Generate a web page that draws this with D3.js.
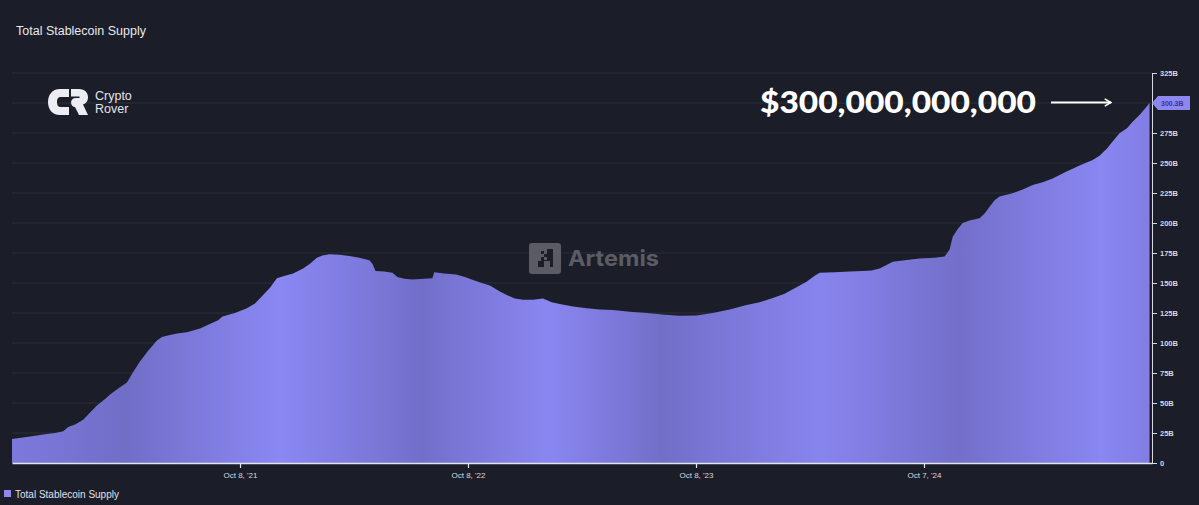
<!DOCTYPE html>
<html><head><meta charset="utf-8">
<script src="https://cdn.jsdelivr.net/npm/d3@7"></script>
<style>
html,body{margin:0;padding:0;background:#1b1e28;}
svg{display:block;}
</style></head>
<body><svg id="chart" width="1199" height="505"></svg>
<script>
const dates = ["2020-10-08","2020-11-06","2020-11-30","2020-12-16","2020-12-29","2021-01-06","2021-01-17","2021-01-30","2021-02-10","2021-02-21","2021-03-05","2021-03-14","2021-03-27","2021-04-10","2021-04-19","2021-04-30","2021-05-13","2021-05-28","2021-06-05","2021-06-13","2021-06-29","2021-07-15","2021-08-05","2021-08-26","2021-09-03","2021-09-10","2021-09-30","2021-10-19","2021-11-01","2021-11-14","2021-11-25","2021-12-06","2021-12-19","2022-01-01","2022-01-17","2022-01-28","2022-02-08","2022-02-17","2022-02-28","2022-03-16","2022-04-01","2022-04-17","2022-05-03","2022-05-08","2022-05-13","2022-05-27","2022-06-09","2022-06-17","2022-06-28","2022-07-11","2022-07-30","2022-08-12","2022-08-15","2022-08-31","2022-09-19","2022-10-03","2022-10-16","2022-10-30","2022-11-12","2022-11-28","2022-12-09","2022-12-22","2023-01-04","2023-01-20","2023-02-05","2023-02-19","2023-03-04","2023-03-25","2023-04-16","2023-05-07","2023-05-28","2023-06-24","2023-07-21","2023-08-19","2023-09-12","2023-10-09","2023-11-04","2023-12-01","2023-12-28","2024-01-18","2024-02-08","2024-02-27","2024-03-11","2024-03-22","2024-04-02","2024-04-15","2024-04-23","2024-05-17","2024-06-10","2024-07-01","2024-07-15","2024-07-28","2024-08-08","2024-08-18","2024-09-06","2024-09-30","2024-10-24","2024-11-09","2024-11-17","2024-11-22","2024-11-30","2024-12-08","2024-12-19","2025-01-04","2025-01-12","2025-01-20","2025-01-28","2025-02-05","2025-02-26","2025-03-14","2025-03-30","2025-04-15","2025-05-01","2025-05-20","2025-06-13","2025-07-04","2025-07-15","2025-07-27","2025-08-05","2025-08-16","2025-08-28","2025-09-06","2025-09-17","2025-09-27","2025-10-03"];
const supplyB = [20,22,24,25,26.5,30,32,36,42,48,53,57,62,67,75,84,93,102,105,106,108,109,112,117,119,122,125,129,133,140,146,154,156,158,162,166,171,173,174,173.5,172.5,171,169,166,160,159.5,158.5,155,153.5,153,153.5,154,159,158,157,155,152.5,150,148,143,140,137,136,136,137,134,132.5,130.5,129,128,127.5,126,125,123.5,122.8,123,125,128,131.7,134,137.5,141,144.7,148,151,156,158.6,159,159.5,160,160.5,162,165,167.7,169,170.5,171,172,178,188.6,195,200,202,204,208,213.6,219,222,224.7,228,231.7,234,237,242,248,252.5,256,262,268,274.7,279,284.4,290,296,300];
const yTicks = [0,25,50,75,100,125,150,175,200,225,250,275,325];
const gridTicks = [25,50,75,100,125,150,175,200,225,250,275,300,325];
const xTickDates = ["2021-10-08","2022-10-08","2023-10-08","2024-10-07"];
const xTickLabels = ["Oct 8, '21","Oct 8, '22","Oct 8, '23","Oct 7, '24"];
const title = "Total Stablecoin Supply";
const lastLabel = "300.3B";
const bigLabel = "$300,000,000,000";

(function(){
const parse = d3.timeParse("%Y-%m-%d");
const data = dates.map((d,i)=>({date:parse(d), v:supplyB[i]}));

const svg = d3.select("#chart");
const W = 1199, H = 505;
svg.append("rect").attr("width",W).attr("height",H).attr("fill","#1b1e28");

const mL = 12, mR = 1152, mT = 73, mB = 463;
const x = d3.scaleTime().domain([parse("2020-10-08"), parse("2025-10-07")]).range([mL,mR]);
const y = d3.scaleLinear().domain([0,325]).range([mB,mT]);

svg.append("g").selectAll("line").data(gridTicks).join("line")
  .attr("x1",mL).attr("x2",mR).attr("y1",d=>y(d)).attr("y2",d=>y(d))
  .attr("stroke","#2b2e3a").attr("stroke-width",1);

const defs = svg.append("defs");
const grad = defs.append("linearGradient").attr("id","ag").attr("gradientUnits","userSpaceOnUse")
  .attr("x1",mL).attr("x2",mR).attr("y1",0).attr("y2",0);
const stops = [[0,"#7c79dc"],[0.10,"#716ec8"],[0.235,"#8b87f3"],[0.36,"#726fca"],[0.47,"#8a86f1"],[0.57,"#726fc9"],[0.71,"#8884ee"],[0.83,"#736fca"],[0.955,"#8a86f2"],[1,"#817de3"]];
stops.forEach(s=>grad.append("stop").attr("offset",s[0]).attr("stop-color",s[1]));

const area = d3.area().x(d=>x(d.date)).y0(y(0)).y1(d=>y(d.v)).curve(d3.curveLinear);
svg.append("path").datum(data).attr("d",area).attr("fill","url(#ag)");

const xg = svg.append("g").attr("transform",`translate(0,${mB})`)
  .call(d3.axisBottom(x).tickValues(xTickDates.map(parse)).tickFormat((d,i)=>xTickLabels[i]).tickSize(5).tickSizeOuter(0));
xg.select(".domain").attr("stroke","#e4e4ee").attr("stroke-width",1.5);
xg.selectAll(".tick line").attr("stroke","#e4e4ee").attr("stroke-width",1.2);
xg.selectAll(".tick text").attr("fill","#d8d8e0").attr("font-family","Liberation Sans, Arial, sans-serif").attr("font-size",8).attr("dy","0.9em").attr("y",8);

const yg = svg.append("g").attr("transform",`translate(${mR},0)`)
  .call(d3.axisRight(y).tickValues(yTicks).tickFormat(d=>d===0?"0":d+"B").tickSize(5).tickSizeOuter(0));
yg.select(".domain").attr("stroke","#d8d8e0").attr("stroke-width",1);
yg.selectAll(".tick line").attr("stroke","#d8d8e0");
yg.selectAll(".tick text").attr("fill","#d8d8e0").attr("font-family","Liberation Sans, Arial, sans-serif").attr("font-size",7.5).attr("font-weight","bold").attr("x",8);

const last = data[data.length-1];
const ty = y(last.v);
svg.append("path").attr("d",`M${mR},${ty} L${mR+6},${ty-7} H${mR+38} V${ty+7} H${mR+6} Z`).attr("fill","#8d87f0");
svg.append("text").attr("x",mR+9).attr("y",ty+2.5).text(lastLabel)
  .attr("fill","#3d3690").attr("font-family","Liberation Sans, Arial, sans-serif").attr("font-size",7).attr("font-weight","bold");

svg.append("text").attr("x",16).attr("y",35).text(title)
  .attr("fill","#e8e8ee").attr("font-family","Liberation Sans, Arial, sans-serif").attr("font-size",12.5);

svg.append("rect").attr("x",4).attr("y",490).attr("width",7).attr("height",7).attr("fill","#8e87ee");
svg.append("text").attr("x",15).attr("y",497.5).text(title)
  .attr("fill","#e0e0e8").attr("font-family","Liberation Sans, Arial, sans-serif").attr("font-size",10);

svg.append("text").attr("x",760).attr("y",113).text(bigLabel)
  .attr("fill","#ffffff").attr("font-family","Lato, Inter, sans-serif").attr("font-weight",900).attr("font-size",30)
  .attr("textLength",276).attr("lengthAdjust","spacingAndGlyphs");
defs.append("marker").attr("id","ah").attr("viewBox","0 0 10 10").attr("refX",9).attr("refY",5)
  .attr("markerWidth",9).attr("markerHeight",9).attr("orient","auto").attr("markerUnits","userSpaceOnUse")
  .append("path").attr("d","M2,1 L9,5 L2,9").attr("fill","none").attr("stroke","#fff").attr("stroke-width",1.8);
svg.append("line").attr("x1",1051).attr("x2",1111).attr("y1",102.5).attr("y2",102.5)
  .attr("stroke","#fff").attr("stroke-width",2).attr("marker-end","url(#ah)");

const lg = svg.append("g").attr("fill","#ececf2");
lg.append("path").attr("d","M69,89 H60 C52,89 48,95 48,102 C48,109 52,115 60,115 H69 V107 H61 C58,107 57,105 57,102 C57,99 58,97 61,97 H69 Z");
lg.append("path").attr("d","M71,89 H79 C85,89 88,93 88,97.5 C88,101 86,103.5 83,104.5 L88,115 H79 L75,107 C73,107 71,105 71,102.5 C71,100 73,98 76,98 H79 C80,98 80,96.5 79,96.5 H71 Z");
svg.append("text").attr("x",95).attr("y",100).text("Crypto").attr("fill","#e4e4ea").attr("font-family","Liberation Sans, Arial, sans-serif").attr("font-size",12.5);
svg.append("text").attr("x",95).attr("y",113).text("Rover").attr("fill","#e4e4ea").attr("font-family","Liberation Sans, Arial, sans-serif").attr("font-size",12.5);

const ag = svg.append("g");
ag.append("rect").attr("x",529).attr("y",243).attr("width",32).attr("height",31).attr("rx",3).attr("fill","#5a5b63");
ag.append("path").attr("fill","#1b1e28").attr("d","M541,251 h3 v3 h-3 z M544,254 h3 v3 h-3 z M547,249 h6 v18 h-3 v-6 h-6 v6 h-6 v-6 h3 v-4 h3 v3 h3 z");
ag.append("text").attr("x",568).attr("y",266).text("Artemis").attr("fill","#5b5c64")
  .attr("font-family","Inter, Liberation Sans, sans-serif").attr("font-weight",700).attr("font-size",22)
  .attr("textLength",91).attr("lengthAdjust","spacingAndGlyphs");
})();
</script></body></html>
